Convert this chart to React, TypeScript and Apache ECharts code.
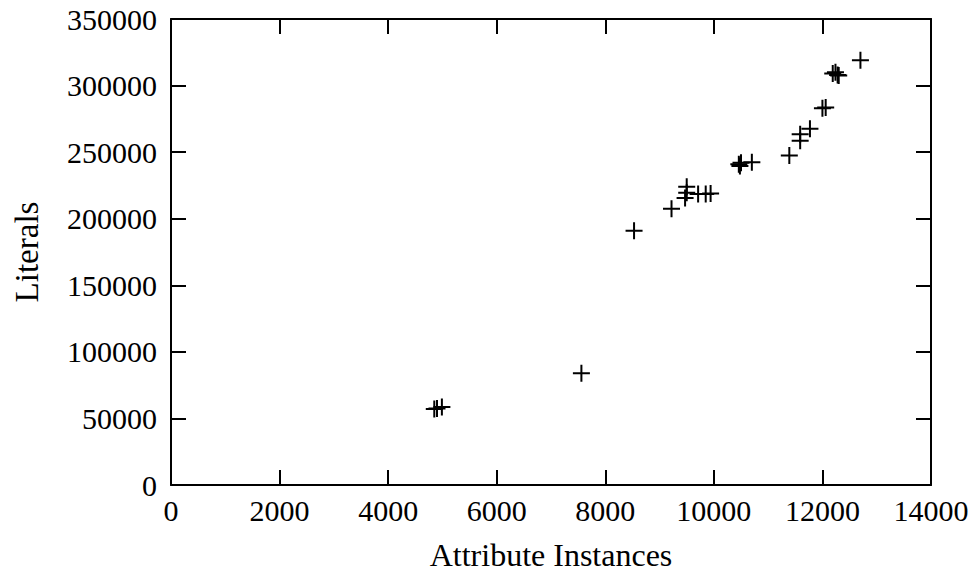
import React, { useEffect, useRef } from "react";
import * as echarts from "echarts";

const xTickMax = 14000;
const yTickMax = 350000;
const xInterval = 2000;
const yInterval = 50000;

const attributeInstances = [4850, 4900, 4990, 7560, 8530, 9220, 9470, 9500, 9500, 9710, 9850, 9940, 10460, 10480, 10500, 10700, 11390, 11590, 11590, 11770, 12000, 12060, 12190, 12240, 12280, 12300, 12700];
const literals = [57000, 57500, 58500, 84000, 191000, 207500, 215500, 219500, 224000, 218500, 218500, 219000, 241000, 239500, 242000, 242500, 247500, 263500, 258500, 267500, 283000, 283500, 309000, 310000, 308000, 307500, 319000];

const FONT = "'Liberation Serif', 'Times New Roman', serif";

export default function App() {
  const ref = useRef<HTMLDivElement>(null);
  useEffect(() => {
    if (!ref.current) return;
    const chart = echarts.init(ref.current, null, { renderer: "svg" });
    const data = attributeInstances.map((x, i) => [x, literals[i]]);
    const axisLine = { show: true, onZero: false, lineStyle: { color: "#000", width: 2 } };
    const axisTick = { show: true, inside: true, length: 15, lineStyle: { color: "#000", width: 2 } };
    const fmt = (v: number) => String(v);
    chart.setOption({
      animation: false,
      backgroundColor: "#fff",
      grid: { left: 171, right: 48, top: 19, bottom: 88, containLabel: false },
      xAxis: [
        {
          type: "value",
          min: 0,
          max: xTickMax,
          interval: xInterval,
          position: "bottom",
          name: "Attribute Instances",
          nameLocation: "middle",
          nameGap: 54,
          nameTextStyle: { fontFamily: FONT, fontSize: 32, color: "#000" },
          axisLine,
          axisTick,
          splitLine: { show: false },
          axisLabel: { fontFamily: FONT, fontSize: 30, color: "#000", margin: 10, formatter: fmt },
        },
        {
          type: "value",
          min: 0,
          max: xTickMax,
          interval: xInterval,
          position: "top",
          axisLine,
          axisTick,
          splitLine: { show: false },
          axisLabel: { show: false },
        },
      ],
      yAxis: [
        {
          type: "value",
          min: 0,
          max: yTickMax,
          interval: yInterval,
          position: "left",
          name: "Literals",
          nameLocation: "middle",
          nameGap: 128,
          nameTextStyle: { fontFamily: FONT, fontSize: 33, color: "#000" },
          axisLine,
          axisTick,
          splitLine: { show: false },
          axisLabel: { fontFamily: FONT, fontSize: 30, color: "#000", margin: 14, formatter: fmt },
        },
        {
          type: "value",
          min: 0,
          max: yTickMax,
          interval: yInterval,
          position: "right",
          axisLine,
          axisTick,
          splitLine: { show: false },
          axisLabel: { show: false },
        },
      ],
      series: [
        {
          type: "scatter",
          xAxisIndex: 0,
          yAxisIndex: 0,
          data,
          symbol: "path://M8 0V16M0 8H16",
          symbolSize: 17,
          itemStyle: { color: "none", borderColor: "#000", borderWidth: 2, opacity: 1 },
        },
      ],
    });
    return () => chart.dispose();
  }, []);
  return <div ref={ref} style={{ width: 979, height: 576, position: "absolute", left: 0, top: 0 }} />;
}
